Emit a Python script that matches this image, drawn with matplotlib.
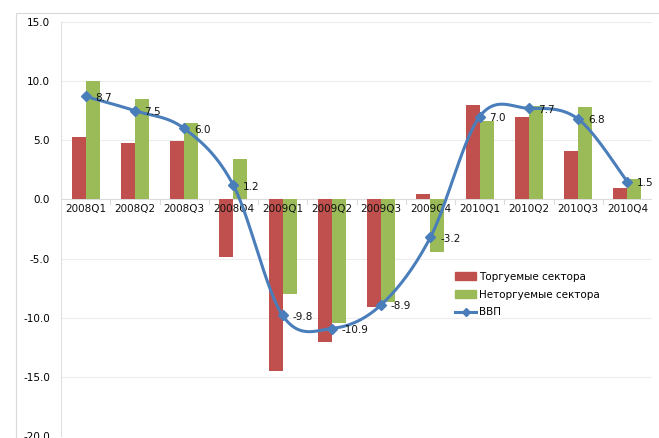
import numpy as np
import matplotlib
matplotlib.use("Agg")
import matplotlib.pyplot as plt
from matplotlib.patches import Rectangle
from matplotlib.lines import Line2D

categories = ["2008Q1", "2008Q2", "2008Q3", "2008Q4", "2009Q1", "2009Q2",
              "2009Q3", "2009Q4", "2010Q1", "2010Q2", "2010Q3", "2010Q4"]
traded = [5.3, 4.8, 4.9, -4.9, -14.5, -12.0, -9.1, 0.5, 8.0, 7.0, 4.1, 1.0]
nontraded = [10.0, 8.5, 6.5, 3.4, -8.0, -10.4, -8.7, -4.4, 6.6, 7.9, 7.8, 1.7]
gdp = [8.7, 7.5, 6.0, 1.2, -9.8, -10.9, -8.9, -3.2, 7.0, 7.7, 6.8, 1.5]
yticks = [15.0, 10.0, 5.0, 0.0, -5.0, -10.0, -15.0, -20.0]

RED = "#C0504D"
GREEN = "#9BBB59"
BLUE = "#4A7EBB"
FS = 7.5

fig = plt.figure(figsize=(6.59, 4.38), dpi=100)
fig.patches.append(Rectangle((16/659, -0.01), 1.0, 1 - 13/438 + 0.01, transform=fig.transFigure,
                             fill=False, edgecolor="#D9D9D9", linewidth=0.8))
ax = fig.add_axes([61/659, 0.004, (652-61)/659, 0.95 - 0.004])

x = np.arange(len(categories))
w = 0.285
ax.bar(x - w/2, traded, w, color=RED, label="Торгуемые сектора", zorder=2)
ax.bar(x + w/2, nontraded, w, color=GREEN, label="Неторгуемые сектора", zorder=2)

# smoothed line (Catmull-Rom / Bezier like Excel)
def smooth(xs, ys, n=30):
    xs = np.asarray(xs, float); ys = np.asarray(ys, float)
    px, py = [], []
    N = len(xs)
    for i in range(N - 1):
        p0 = np.array([xs[max(i-1, 0)], ys[max(i-1, 0)]])
        p1 = np.array([xs[i], ys[i]])
        p2 = np.array([xs[i+1], ys[i+1]])
        p3 = np.array([xs[min(i+2, N-1)], ys[min(i+2, N-1)]])
        c1 = p1 + (p2 - p0) / 6
        c2 = p2 - (p3 - p1) / 6
        t = np.linspace(0, 1, n)[:, None]
        pts = (1-t)**3*p1 + 3*(1-t)**2*t*c1 + 3*(1-t)*t**2*c2 + t**3*p2
        px.extend(pts[:, 0]); py.extend(pts[:, 1])
    return np.array(px), np.array(py)

for xi, c in zip(x, categories):
    ax.text(xi, -0.35, c, ha="center", va="top", fontsize=FS, color="#111111", zorder=2.5)

sx, sy = smooth(x, gdp)
ax.plot(sx, sy, color=BLUE, linewidth=2.2, zorder=3, solid_capstyle="round")
ax.plot(x, gdp, linestyle="none", marker="D", markersize=5, color=BLUE, zorder=4)
for xi, v in zip(x, gdp):
    ax.annotate(f"{v:.1f}", (xi, v), xytext=(7, -1), textcoords="offset points",
                ha="left", va="center", fontsize=FS, color="#111111", zorder=5)

ax.set_xlim(-0.5, len(categories) - 0.5)
ax.set_ylim(-20, 15)
ax.set_yticks(yticks)
ax.set_yticklabels([f"{t:.1f}" for t in yticks], fontsize=FS)
ax.tick_params(axis="y", length=0, pad=8)
ax.yaxis.grid(True, color="#EDEDED", linewidth=0.8, zorder=0)
ax.set_axisbelow(True)
for s in ["top", "right", "bottom"]:
    ax.spines[s].set_visible(False)
ax.spines["left"].set_color("#E0E0E0")
ax.set_xticks([])
ax.axhline(0, color="#DCDCDC", linewidth=0.8, zorder=1)
for b in np.arange(0.5, len(categories) - 0.5, 1):
    ax.plot([b, b], [0, -0.4], color="#DCDCDC", linewidth=0.8, zorder=1)

handles = [Rectangle((0, 0), 1, 1, color=RED), Rectangle((0, 0), 1, 1, color=GREEN),
           Line2D([0], [0], color=BLUE, linewidth=2.2, marker="D", markersize=4)]
labels = ["Торгуемые сектора", "Неторгуемые сектора", "ВВП"]
leg = ax.legend(handles, labels, loc="upper left", bbox_to_anchor=(0.667, 0.397),
                frameon=False, fontsize=FS, handlelength=2.0, handleheight=0.7,
                labelspacing=0.75, handletextpad=0.3, borderaxespad=0, borderpad=0)

fig.savefig("out.png", dpi=100)
